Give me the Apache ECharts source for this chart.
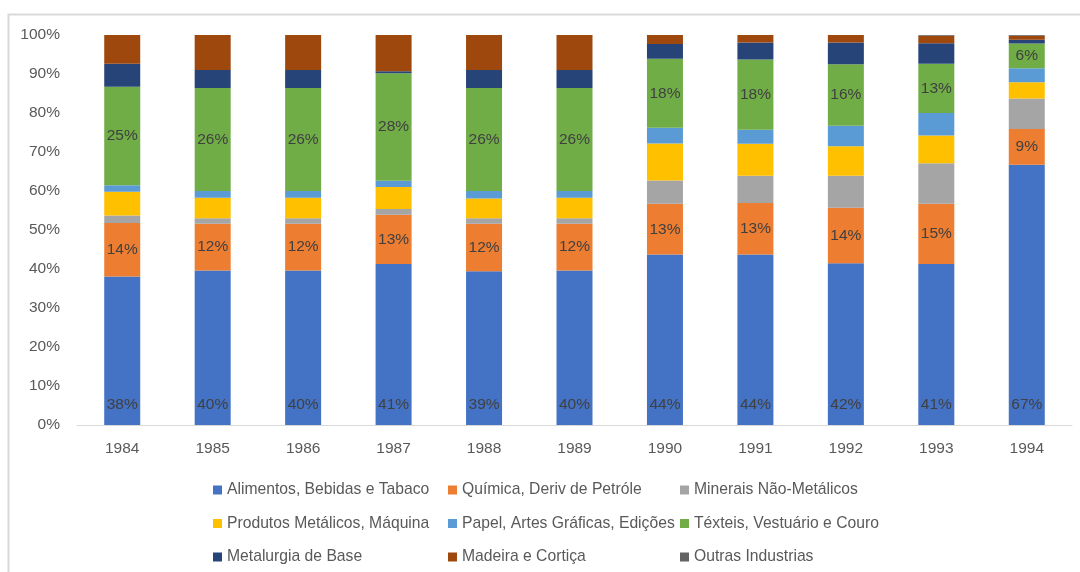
<!DOCTYPE html>
<html>
<head>
<meta charset="utf-8">
<script src="https://cdn.jsdelivr.net/npm/echarts@6/dist/echarts.min.js"></script>
<style>html,body{margin:0;padding:0;background:#fff;}#c{width:1080px;height:572px;}</style>
</head>
<body>
<div id="c"></div>
<script>
const years = ['1984','1985','1986','1987','1988','1989','1990','1991','1992','1993','1994'];
const alimentos  = [38.1, 39.6, 39.6, 41.3, 39.4, 39.6, 43.7, 43.7, 41.5, 41.3, 66.7];
const quimica    = [13.7, 12.0, 12.0, 12.6, 12.2, 12.0, 13.0, 13.2, 14.2, 15.4, 9.2];
const minerais   = [1.9, 1.4, 1.4, 1.5, 1.4, 1.4, 6.0, 7.0, 8.2, 10.4, 7.8];
const produtos   = [6.1, 5.3, 5.3, 5.6, 5.1, 5.3, 9.5, 8.2, 7.6, 7.1, 4.2];
const papel      = [1.7, 1.7, 1.7, 1.6, 1.9, 1.7, 4.0, 3.6, 5.2, 5.8, 3.6];
const texteis    = [25.2, 26.4, 26.4, 27.6, 26.4, 26.4, 17.7, 18.0, 15.8, 12.6, 6.3];
const metalurgia = [5.9, 4.6, 4.6, 0.5, 4.6, 4.6, 3.8, 4.4, 5.6, 5.3, 1.0];
const madeira    = [7.4, 9.0, 9.0, 9.3, 9.0, 9.0, 2.3, 1.9, 1.9, 1.9, 1.0];
const outras     = [0, 0, 0, 0, 0, 0, 0, 0, 0, 0.2, 0.2];
const yTicks = [0,10,20,30,40,50,60,70,80,90,100];

const FONT = "'Liberation Sans', Arial, sans-serif";
const names = ['Alimentos, Bebidas e Tabaco','Química, Deriv de Petróle','Minerais Não-Metálicos',
  'Produtos Metálicos, Máquina','Papel, Artes Gráficas, Edições','Téxteis, Vestuário e Couro',
  'Metalurgia de Base','Madeira e Cortiça','Outras Industrias'];
const dataArr = [alimentos, quimica, minerais, produtos, papel, texteis, metalurgia, madeira, outras];
const colors = ['#4472C4','#ED7D31','#A5A5A5','#FFC000','#5B9BD5','#70AD47','#264478','#9E480E','#636363'];

const labelFmt = p => Math.round(p.value) + '%';
const series = names.map((n, i) => {
  const s = {
    name: n, type: 'bar', stack: 'total', barWidth: 36,
    data: dataArr[i], itemStyle: {color: colors[i]},
    emphasis: {disabled: true}
  };
  if (i === 0) s.label = {show: true, position: 'insideBottom', distance: 12, formatter: labelFmt, color: '#404040', fontSize: 15.5, fontFamily: FONT};
  if (i === 1 || i === 5) s.label = {show: true, position: 'inside', formatter: labelFmt, color: '#404040', fontSize: 15.5, fontFamily: FONT};
  return s;
});

function leg(left, data) {
  return {
    orient: 'vertical', left: left, top: 477, height: 120, itemWidth: 9, itemHeight: 9, itemGap: 17.5,
    icon: 'rect', selectedMode: false,
    textStyle: {color: '#595959', fontSize: 15.7, fontFamily: FONT},
    data: data
  };
}

const chart = echarts.init(document.getElementById('c'), null, {renderer: 'canvas'});
chart.setOption({
  animation: false,
  color: colors,
  graphic: [{type: 'rect', shape: {x: 8.5, y: 14.5, width: 1200, height: 700}, style: {fill: 'none', stroke: '#d9d9d9', lineWidth: 2}, silent: true}],
  grid: {left: 77, right: 8, top: 35, bottom: 147},
  legend: [
    leg(208, [names[0], names[3], names[6]]),
    leg(443, [names[1], names[4], names[7]]),
    leg(675, [names[2], names[5], names[8]])
  ],
  xAxis: {
    type: 'category', data: years,
    axisLine: {lineStyle: {color: '#d9d9d9', width: 1}},
    axisTick: {show: false},
    axisLabel: {color: '#595959', fontSize: 15.5, fontFamily: FONT, margin: 16}
  },
  yAxis: {
    type: 'value', min: yTicks[0], max: yTicks[yTicks.length-1], interval: 10,
    axisLine: {show: false}, axisTick: {show: false}, splitLine: {show: false},
    axisLabel: {color: '#595959', fontSize: 15.5, fontFamily: FONT, margin: 17, formatter: '{value}%'}
  },
  series: series
});
</script>
</body>
</html>
